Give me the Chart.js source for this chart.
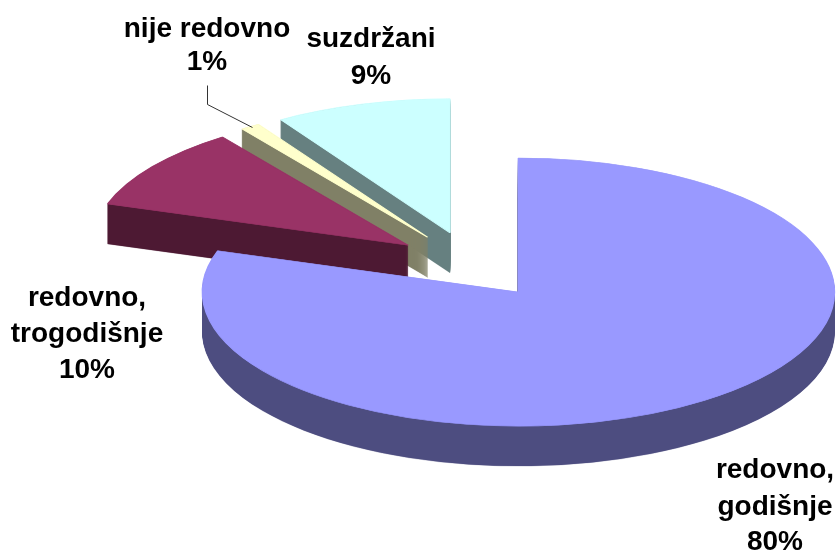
<!DOCTYPE html>
<html>
<head>
<meta charset="utf-8">
<style>html,body{margin:0;padding:0;background:#fff}canvas{display:block}</style>
<script src="https://cdn.jsdelivr.net/npm/chart.js@4"></script>
</head>
<body>
<canvas id="c" width="836" height="554"></canvas>
<script>
const categories = ['redovno, godišnje', 'redovno, trogodišnje', 'nije redovno', 'suzdržani'];
const values = [80, 10, 1, 9];
const topColors = ['#9999FF', '#993366', '#FFFFCC', '#CCFFFF'];
const sideColors = ['#4D4D80', '#4D1933', '#808066', '#668080'];

const RADIUS = 316, TILT = 134 / 316, DEPTH = 40, EXPLODE = 0.25 * RADIUS;
const drawOrder = [3, 2, 1, 0];
const FONT = 'bold 28px "Liberation Sans", Arial, sans-serif';
const labelLines = [
  {i: 0, x: 775, ys: [478, 515, 550], lines: ['redovno,', 'godišnje']},
  {i: 1, x: 87, ys: [306, 342, 378], lines: ['redovno,', 'trogodišnje']},
  {i: 2, x: 207, ys: [37, 70], lines: ['nije redovno']},
  {i: 3, x: 371, ys: [47, 84], lines: ['suzdržani']}
];
const leader = [[207, 85], [207, 104], [252, 127]];

const tiltedPie = {
  id: 'tiltedPie',
  beforeDatasetsDraw(chart) {
    const ctx = chart.ctx;
    const arcs = chart.getDatasetMeta(0).data;
    const layer = document.createElement('canvas');
    layer.width = chart.width;
    layer.height = chart.height;
    const lctx = layer.getContext('2d');
    drawOrder.forEach(i => {
      const arc = arcs[i];
      const base = arc.options;
      const mid = (arc.startAngle + arc.endAngle) / 2;
      const paint = (target, dy, color, border) => {
        arc.options = Object.assign({}, base, {backgroundColor: color, borderColor: color, offset: 0, borderWidth: border});
        target.save();
        target.translate(0, arc.y + dy);
        target.scale(1, TILT);
        target.translate(0, -arc.y);
        target.translate(Math.cos(mid) * EXPLODE, Math.sin(mid) * EXPLODE);
        arc.draw(target);
        target.restore();
      };
      // side wall: stack the slice on a clear layer, then flatten it to one colour
      lctx.globalCompositeOperation = 'source-over';
      lctx.clearRect(0, 0, layer.width, layer.height);
      for (let d = DEPTH; d > 0; d -= 0.5) paint(lctx, d, sideColors[i], 0.4);
      lctx.globalCompositeOperation = 'source-atop';
      lctx.fillStyle = sideColors[i];
      lctx.fillRect(0, 0, layer.width, layer.height);
      ctx.drawImage(layer, 0, 0);
      paint(ctx, 0, topColors[i], 1.5);
      arc.options = base;
    });

    ctx.save();
    ctx.strokeStyle = '#333333';
    ctx.lineWidth = 1;
    ctx.beginPath();
    leader.forEach((p, k) => k ? ctx.lineTo(p[0] + .5, p[1] + .5) : ctx.moveTo(p[0] + .5, p[1] + .5));
    ctx.stroke();
    ctx.fillStyle = '#000';
    ctx.font = FONT;
    ctx.textAlign = 'center';
    ctx.textBaseline = 'alphabetic';
    labelLines.forEach(l => {
      const texts = l.lines.concat(values[l.i] + '%');
      texts.forEach((t, k) => ctx.fillText(t, l.x, l.ys[k]));
    });
    ctx.restore();
    return false;
  }
};

new Chart(document.getElementById('c'), {
  type: 'pie',
  data: {
    labels: categories,
    datasets: [{data: values, backgroundColor: topColors, borderWidth: 0, radius: RADIUS}]
  },
  options: {
    responsive: false,
    animation: false,
    layout: {padding: {left: 108, bottom: 24}},
    plugins: {legend: {display: false}, tooltip: {enabled: false}}
  },
  plugins: [tiltedPie]
});
</script>
</body>
</html>
